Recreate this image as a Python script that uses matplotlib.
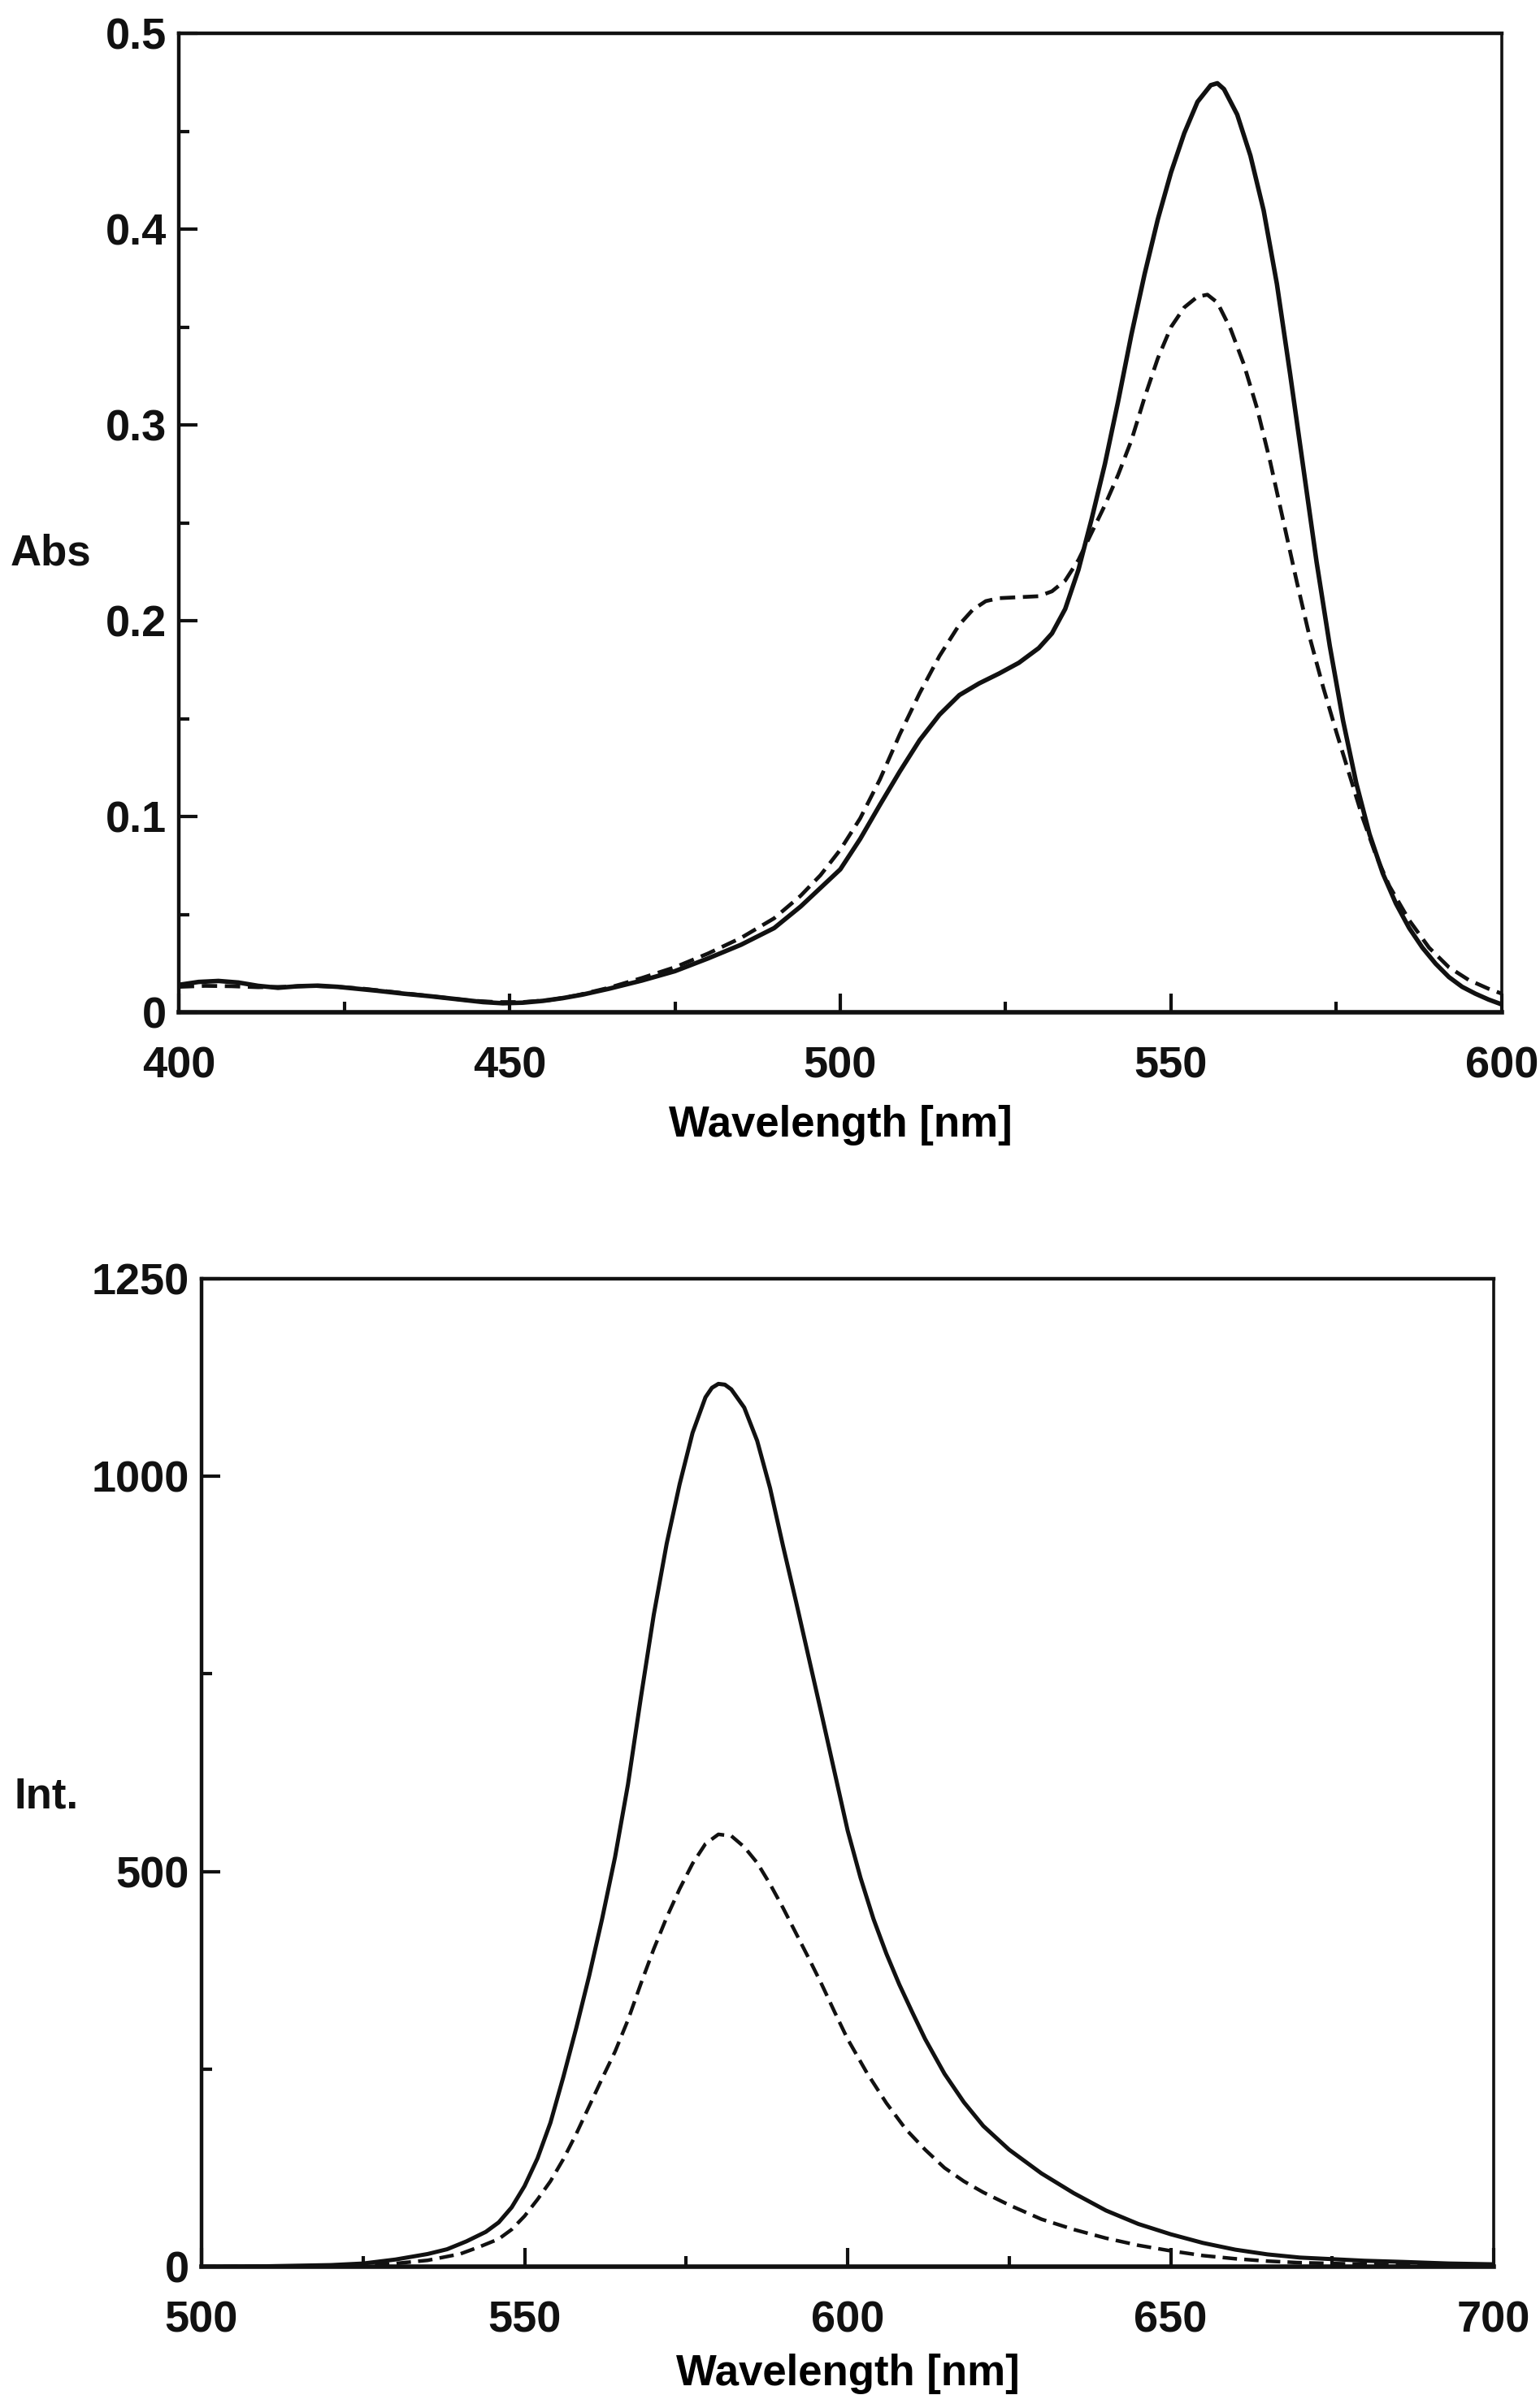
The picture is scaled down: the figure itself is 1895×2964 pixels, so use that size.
import matplotlib
matplotlib.use("Agg")
import matplotlib.pyplot as plt
from matplotlib import font_manager as fm

# ---------------- data ----------------
abs_solid_wl = [400, 403, 406, 409, 412, 415, 418, 421, 424, 427, 430, 434, 438, 442, 446, 449,
                452, 455, 458, 461, 465, 470, 475, 480, 485, 490, 494, 497, 500, 503, 506, 509,
                512, 515, 518, 521, 524, 527, 530, 532, 534, 536, 538, 540, 542, 544, 546, 548,
                550, 552, 554, 556, 557, 558, 560, 562, 564, 566, 568, 570, 572, 574, 576, 578,
                580, 582, 584, 586, 588, 590, 592, 594, 596, 598, 600]
abs_solid = [0.0140, 0.0155, 0.0160, 0.0152, 0.0135, 0.0125, 0.0133, 0.0136, 0.0130, 0.0120,
             0.0110, 0.0095, 0.0082, 0.0067, 0.0052, 0.0046, 0.0049, 0.0058, 0.0072, 0.0090,
             0.0120, 0.0162, 0.0210, 0.0275, 0.0345, 0.0430, 0.0540, 0.0635, 0.0730, 0.0885,
             0.1060, 0.1230, 0.1390, 0.1520, 0.1620, 0.1680, 0.1730, 0.1785, 0.1860, 0.1935,
             0.2060, 0.2260, 0.2520, 0.2800, 0.3120, 0.3460, 0.3770, 0.4050, 0.4290, 0.4490,
             0.4650, 0.4735, 0.4745, 0.4715, 0.4585, 0.4375, 0.4095, 0.3720, 0.3260, 0.2780,
             0.2300, 0.1870, 0.1490, 0.1170, 0.0910, 0.0710, 0.0555, 0.0430, 0.0330, 0.0248,
             0.0180, 0.0130, 0.0095, 0.0065, 0.0040]

abs_dash_wl = [400, 404, 408, 412, 416, 420, 424, 428, 432, 436, 440, 444, 448, 452, 456, 460,
               465, 470, 475, 480, 485, 490, 494, 497, 500, 503, 506, 509, 512, 515, 518, 520,
               522, 524, 527, 530, 532, 534, 536, 538, 540, 542, 544, 546, 548, 550, 552, 554,
               555.5, 557, 559, 561, 563, 565, 567, 569, 571, 573, 575, 577, 579, 581, 583, 586,
               589, 592, 595, 598, 600]
abs_dash = [0.0130, 0.0135, 0.0133, 0.0128, 0.0130, 0.0135, 0.0130, 0.0120, 0.0105, 0.0090,
            0.0075, 0.0060, 0.0052, 0.0052, 0.0062, 0.0085, 0.0125, 0.0175, 0.0230, 0.0300,
            0.0380, 0.0480, 0.0595, 0.0700, 0.0830, 0.0990, 0.1190, 0.1420, 0.1630, 0.1820,
            0.1980, 0.2055, 0.2100, 0.2115, 0.2120, 0.2125, 0.2150, 0.2205, 0.2310, 0.2450,
            0.2590, 0.2745, 0.2920, 0.3140, 0.3340, 0.3500, 0.3600, 0.3655, 0.3665, 0.3625,
            0.3490, 0.3310, 0.3085, 0.2810, 0.2505, 0.2200, 0.1910, 0.1660, 0.1430, 0.1210,
            0.0990, 0.0800, 0.0645, 0.0470, 0.0330, 0.0230, 0.0165, 0.0120, 0.0095]

fl_solid_wl = [500, 510, 520, 525, 530, 535, 538, 541, 544, 546, 548, 550, 552, 554, 556, 558,
               560, 562, 564, 566, 568, 570, 572, 574, 576, 578, 579, 580, 581, 582, 584, 586,
               588, 590, 592, 594, 596, 598, 600, 602, 604, 606, 608, 610, 612, 615, 618, 621,
               625, 630, 635, 640, 645, 650, 655, 660, 665, 670, 675, 680, 686, 693, 700]
fl_solid = [0, 0.5, 2, 4, 9, 16, 22, 32, 44, 56, 75, 102, 137, 182, 240, 302,
            368, 440, 518, 610, 720, 825, 915, 990, 1055, 1100, 1112, 1117, 1116, 1110, 1087, 1045,
            985, 912, 842, 770, 698, 625, 552, 492, 440, 396, 357, 322, 288, 244, 208, 178,
            148, 118, 93, 71, 54, 41, 30, 21.5, 15.5, 11.5, 9.5, 7.5, 6, 4, 3]

fl_dash_wl = [500, 515, 525, 530, 535, 540, 543, 546, 548, 550, 552, 554, 556, 558, 560, 562,
              564, 566, 568, 570, 572, 574, 576, 578, 580, 582, 584, 586, 588, 590, 592, 594,
              596, 598, 600, 603, 606, 609, 612, 615, 618, 621, 625, 630, 635, 640, 645, 650,
              655, 660, 665, 670, 680, 690, 700]
fl_dash = [0, 0.5, 2, 4, 8, 16, 25, 35, 47, 64, 85, 108, 136, 168, 203, 238,
           272, 312, 358, 402, 442, 478, 510, 535, 547, 545, 531, 511, 484, 454, 422, 390,
           357, 322, 288, 245, 207, 174, 148, 125, 108, 94, 78, 60, 47, 36, 27, 20,
           14, 10, 7, 5, 3, 2, 1]

top_xticks = [400, 450, 500, 550, 600]
top_xminor = [425, 475, 525, 575]
top_yticks = [0, 0.1, 0.2, 0.3, 0.4, 0.5]
top_ytick_labels = ["0", "0.1", "0.2", "0.3", "0.4", "0.5"]
top_yminor = [0.05, 0.15, 0.25, 0.35, 0.45]

bot_xticks = [500, 550, 600, 650, 700]
bot_xminor = [525, 575, 625, 675]
bot_yticks = [0, 500, 1000, 1250]
bot_yminor = [250, 750]

xlabel_text = "Wavelength [nm]"
top_ylabel = "Abs"
bot_ylabel = "Int."

# ---------------- style ----------------
plt.rcParams['font.family'] = ['Liberation Sans', 'DejaVu Sans']
plt.rcParams['font.weight'] = 'bold'

names = {f.name for f in fm.fontManager.ttflist}
if 'Liberation Sans Narrow' in names:
    label_family = ['Liberation Sans Narrow', 'Liberation Sans', 'DejaVu Sans']
    label_size = 46
    abs_size = 43
else:
    label_family = ['Liberation Sans', 'DejaVu Sans']
    label_size = 38
    abs_size = 38

INK = '#111111'
W, H = 1895, 2964
fig = plt.figure(figsize=(W / 100, H / 100), dpi=100)


def px_axes(l, r, t, b):
    return fig.add_axes([l / W, 1 - b / H, (r - l) / W, (b - t) / H])


def style(ax, xpad=30, ypad=11):
    for side, lw in (('left', 3.2), ('top', 3.2), ('right', 2.6), ('bottom', 4.0)):
        ax.spines[side].set_linewidth(lw)
        ax.spines[side].set_color(INK)
    ax.tick_params(which='both', direction='in', top=False, right=False, colors=INK)
    ax.tick_params(axis='both', which='major', length=16.5, width=3, labelsize=39)
    ax.tick_params(axis='both', which='minor', length=9.5, width=3)
    ax.tick_params(axis='x', which='major', pad=xpad)
    ax.tick_params(axis='y', which='major', pad=ypad)


# ---------------- top: absorption ----------------
ax1 = px_axes(220, 1848, 41, 1246)
ax1.plot(abs_solid_wl, abs_solid, color=INK, lw=4.0, solid_joinstyle='round')
ax1.plot(abs_dash_wl, abs_dash, color=INK, lw=3.4, linestyle=(0, (4.0, 2.0)))
ax1.set_xlim(400, 600)
ax1.set_ylim(0, 0.5)
ax1.set_xticks(top_xticks)
ax1.set_xticks(top_xminor, minor=True)
ax1.set_yticks(top_yticks)
ax1.set_yticklabels(top_ytick_labels)
ax1.set_yticks(top_yminor, minor=True)
style(ax1)
ax1.set_xlabel(xlabel_text, family=label_family, fontsize=label_size, fontweight='bold')
ax1.xaxis.set_label_coords(0.5, (1246 - 1385) / (1246 - 41))
ax1.xaxis.label.set_va('center')
fig.text(62 / W, 1 - 682 / H, top_ylabel, family=label_family, fontsize=abs_size,
         fontweight='bold', ha='center', va='center', color=INK)

# ---------------- bottom: fluorescence ----------------
ax2 = px_axes(248, 1838, 1574, 2790)
ax2.plot(fl_solid_wl, fl_solid, color=INK, lw=3.6, solid_joinstyle='round')
ax2.plot(fl_dash_wl, fl_dash, color=INK, lw=3.2, linestyle=(0, (4.0, 2.0)))
ax2.set_xlim(500, 700)
ax2.set_ylim(0, 1250)
ax2.set_xticks(bot_xticks)
ax2.set_xticks(bot_xminor, minor=True)
ax2.set_yticks(bot_yticks)
ax2.set_yticks(bot_yminor, minor=True)
style(ax2)
ax2.set_xlabel(xlabel_text, family=label_family, fontsize=label_size, fontweight='bold')
ax2.xaxis.set_label_coords(0.5, (2790 - 2922) / (2790 - 1574))
ax2.xaxis.label.set_va('center')
fig.text(57 / W, 1 - 2212 / H, bot_ylabel, fontsize=38, fontweight='bold',
         ha='center', va='center', color=INK)

fig.savefig("out.png", dpi=100, facecolor='white')
